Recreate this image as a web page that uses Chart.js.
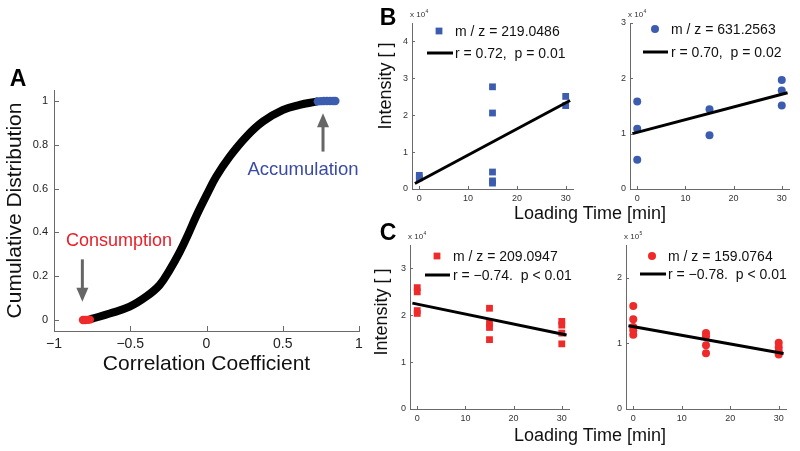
<!DOCTYPE html>
<html>
<head>
<meta charset="utf-8">
<script src="https://cdn.jsdelivr.net/npm/chart.js@4.4.0/dist/chart.umd.min.js"></script>
<style>
  body { margin:0; background:#fff; width:800px; height:451px; position:relative; overflow:hidden;
         font-family:"Liberation Sans", Arial, sans-serif; color:#111; }
  canvas { position:absolute; }
  .t { position:absolute; white-space:nowrap; line-height:1; transform:translate(-50%,-50%); }
  .rot { transform:translate(-50%,-50%) rotate(-90deg); }
  .panel { font-weight:bold; font-size:23px; color:#000; }
  .ttl { font-size:18px; }
</style>
</head>
<body>
<canvas id="cA" width="375" height="330" style="left:0;top:60px"></canvas>
<canvas id="cB1" width="220" height="215" style="left:360px;top:0"></canvas>
<canvas id="cB2" width="220" height="215" style="left:580px;top:0"></canvas>
<canvas id="cC1" width="220" height="215" style="left:360px;top:225px"></canvas>
<canvas id="cC2" width="220" height="215" style="left:580px;top:225px"></canvas>

<div class="t panel" style="left:18px;top:78px">A</div>
<div class="t panel" style="left:388px;top:17px">B</div>
<div class="t panel" style="left:388px;top:232px">C</div>

<div class="t" style="left:119px;top:240px;font-size:18px;color:#e8202a">Consumption</div>
<div class="t" style="left:303px;top:169px;font-size:18.5px;color:#3a4ba3">Accumulation</div>

<div class="t rot ttl" style="left:385px;top:86px">Intensity [ ]</div>
<div class="t rot ttl" style="left:381px;top:312px">Intensity [ ]</div>
<div class="t ttl" style="left:590px;top:213px">Loading Time [min]</div>
<div class="t ttl" style="left:590px;top:435px">Loading Time [min]</div>

<script>
// ---- panel A: cumulative distribution of correlation coefficients
const cdfR = [-0.755, -0.635, -0.504, -0.395, -0.307, -0.242, -0.176, -0.121, -0.067, 0.0, 0.064, 0.152, 0.261, 0.37, 0.502, 0.611, 0.72];
const cdfP = [0.005, 0.03, 0.061, 0.107, 0.16, 0.228, 0.31, 0.39, 0.475, 0.57, 0.655, 0.746, 0.837, 0.906, 0.959, 0.982, 0.997];
const consumeR = [-0.81, -0.795, -0.78, -0.765];
const consumeP = [0, 0, 0.001, 0.002];
const accumR = [0.73, 0.75, 0.77, 0.79, 0.81, 0.83, 0.845];
const accumP = [0.998, 0.999, 1, 1, 1, 1, 1];
const corrTicks = [-1, -0.5, 0, 0.5, 1];
const cdfTicks = [0, 0.2, 0.4, 0.6, 0.8, 1];
// arrows: x, tail value, head value
const arrowMarks = [
  { x: -0.814, from: 0.277, to: 0.084 },
  { x: 0.764, from: 0.769, to: 0.944 }
];

// ---- panels B and C: intensity vs loading time
const timeTicks = [0, 10, 20, 30];

const b1Time = [0, 0, 15, 15, 15, 15, 15, 30, 30];
const b1Int  = [0.37, 0.30, 2.77, 2.06, 0.46, 0.22, 0.16, 2.51, 2.26];
const b1FitX = [-0.9, 30.9];
const b1FitY = [0.15, 2.40];

const b2Time = [0, 0, 0, 15, 15, 30, 30, 30];
const b2Int  = [1.58, 1.09, 0.53, 1.44, 0.97, 1.97, 1.78, 1.51];
const b2FitX = [-1, 31.2];
const b2FitY = [1.0, 1.74];

const c1Time = [0, 0, 0, 0, 15, 15, 15, 15, 30, 30, 30, 30];
const c1Int  = [2.59, 2.50, 2.10, 2.04, 2.15, 1.83, 1.74, 1.48, 1.87, 1.79, 1.62, 1.39];
const c1FitX = [-1, 31];
const c1FitY = [2.26, 1.58];

const c2Time = [0, 0, 0, 0, 0, 15, 15, 15, 15, 30, 30, 30, 30];
const c2Int  = [1.57, 1.37, 1.25, 1.20, 1.13, 1.16, 1.11, 0.97, 0.85, 1.01, 0.94, 0.88, 0.83];
const c2FitX = [-1, 31];
const c2FitY = [1.27, 0.845];

const blue = '#3b5caf';
const red = '#ee2a2a';
const axisCol = '#6a6a6a';
const font = '"Liberation Sans", Arial, sans-serif';

function pts(xs, ys) { return xs.map((x, i) => ({ x: x, y: ys[i] })); }
function minus(v) { return String(v).replace('-', '\u2212'); }

// inward ticks, arrows, exponent label, legend
const decor = {
  id: 'decor',
  afterDraw(chart, args, o) {
    const ctx = chart.ctx, a = chart.chartArea;
    const xs = chart.scales.x, ys = chart.scales.y;
    ctx.save();
    ctx.strokeStyle = axisCol; ctx.lineWidth = 1;
    xs.ticks.forEach(t => {
      const px = Math.round(xs.getPixelForValue(t.value)) + 0.5;
      ctx.beginPath(); ctx.moveTo(px, a.bottom); ctx.lineTo(px, a.bottom - o.tick); ctx.stroke();
    });
    ys.ticks.forEach(t => {
      const py = Math.round(ys.getPixelForValue(t.value)) + 0.5;
      ctx.beginPath(); ctx.moveTo(a.left, py); ctx.lineTo(a.left + o.tick, py); ctx.stroke();
    });

    (o.arrows || []).forEach(ar => {
      const px = xs.getPixelForValue(ar.x);
      const y0 = ys.getPixelForValue(ar.from), y1 = ys.getPixelForValue(ar.to);
      const dir = y1 > y0 ? 1 : -1;
      ctx.strokeStyle = '#666'; ctx.fillStyle = '#666'; ctx.lineWidth = 3;
      ctx.beginPath(); ctx.moveTo(px, y0); ctx.lineTo(px, y1 - dir * 10); ctx.stroke();
      ctx.beginPath(); ctx.moveTo(px, y1); ctx.lineTo(px - 6, y1 - dir * 14); ctx.lineTo(px + 6, y1 - dir * 14); ctx.closePath(); ctx.fill();
    });

    if (o.exp) {
      ctx.fillStyle = '#333'; ctx.textBaseline = 'alphabetic'; ctx.textAlign = 'left';
      ctx.font = '8px ' + font;
      ctx.fillText('x 10', a.left - 2, a.top - 6);
      const w = ctx.measureText('x 10').width;
      ctx.font = '5px ' + font;
      ctx.fillText(o.exp, a.left - 2 + w + 0.5, a.top - 10);
    }

    if (o.legend) {
      const L = o.legend, d = chart.data.datasets[1];
      const mx = a.left + L.mx, my = a.top + L.my;
      ctx.fillStyle = d.backgroundColor;
      ctx.beginPath();
      if (d.pointStyle === 'rect') {
        const s = Math.SQRT1_2 * d.pointRadius;
        ctx.rect(mx - s, my - s, 2 * s, 2 * s);
      } else {
        ctx.arc(mx, my, d.pointRadius, 0, Math.PI * 2);
      }
      ctx.fill();
      ctx.strokeStyle = '#000'; ctx.lineWidth = 3;
      ctx.beginPath(); ctx.moveTo(a.left + L.l0, a.top + L.ly); ctx.lineTo(a.left + L.l1, a.top + L.ly); ctx.stroke();
      ctx.fillStyle = '#111'; ctx.font = '14px ' + font; ctx.textBaseline = 'middle'; ctx.textAlign = 'left';
      ctx.fillText(L.name, a.left + L.tx, my + 1);
      ctx.fillText(L.stat, a.left + L.tx, a.top + L.ly + 1);
    }
    ctx.restore();
  }
};

// panel A
new Chart(document.getElementById('cA'), {
  type: 'scatter',
  data: {
    datasets: [
      { data: pts(consumeR, consumeP), backgroundColor: red, pointRadius: 4.2, borderWidth: 0, order: 0 },
      { data: pts(accumR, accumP), backgroundColor: blue, pointRadius: 4.2, borderWidth: 0, order: 0 },
      { data: pts(cdfR, cdfP), showLine: true, borderColor: '#000', borderWidth: 8, pointRadius: 0,
        tension: 0.4, borderCapStyle: 'round', order: 1 }
    ]
  },
  options: {
    responsive: false, animation: false,
    layout: { padding: { top: 30, right: 16, bottom: 9, left: 0 } },
    plugins: {
      legend: { display: false }, tooltip: { enabled: false },
      decor: { tick: 5, arrows: arrowMarks }
    },
    scales: {
      x: {
        type: 'linear', min: -1, max: 1,
        afterBuildTicks: s => { s.ticks = corrTicks.map(v => ({ value: v })); },
        afterFit: s => { s.height = 50; },
        grid: { drawOnChartArea: false, drawTicks: false },
        border: { color: axisCol },
        ticks: { font: { family: font, size: 14 }, color: '#222', padding: 5, callback: v => minus(v), maxRotation: 0 },
        title: { display: true, text: 'Correlation Coefficient', font: { family: font, size: 21 }, color: '#111', padding: { top: 0, bottom: 4 } }
      },
      y: {
        min: -0.05, max: 1.05,
        afterBuildTicks: s => { s.ticks = cdfTicks.map(v => ({ value: v })); },
        afterFit: s => { s.width = 54; },
        grid: { drawOnChartArea: false, drawTicks: false },
        border: { color: axisCol },
        ticks: { font: { family: font, size: 11 }, color: '#222', padding: 6, callback: v => String(v) },
        title: { display: true, text: 'Cumulative Distribution', font: { family: font, size: 21 }, color: '#111', padding: { top: 3, bottom: 0 } }
      }
    }
  },
  plugins: [decor]
});

function smallChart(id, o) {
  return new Chart(document.getElementById(id), {
    type: 'scatter',
    data: {
      datasets: [
        { data: pts(o.fitX, o.fitY), showLine: true, borderColor: '#000', borderWidth: 3, pointRadius: 0, order: 0 },
        { data: pts(o.xs, o.ys), pointStyle: o.shape, pointRadius: o.r, backgroundColor: o.color, borderWidth: 0, order: 1 }
      ]
    },
    options: {
      responsive: false, animation: false,
      layout: { padding: o.pad },
      plugins: {
        legend: { display: false }, tooltip: { enabled: false },
        decor: { tick: 3, exp: o.exp, legend: o.legend }
      },
      scales: {
        x: {
          type: 'linear', min: -1.5, max: 31.5,
          afterBuildTicks: s => { s.ticks = timeTicks.map(v => ({ value: v })); },
          afterFit: s => { s.height = 18; },
          grid: { drawOnChartArea: false, drawTicks: false },
          border: { color: axisCol },
          ticks: { font: { family: font, size: 9 }, color: '#333', padding: 4, maxRotation: 0 }
        },
        y: {
          min: 0, max: o.ymax,
          afterBuildTicks: s => { s.ticks = o.yTicks.map(v => ({ value: v })); },
          afterFit: s => { s.width = o.yw; },
          grid: { drawOnChartArea: false, drawTicks: false },
          border: { color: axisCol },
          ticks: { font: { family: font, size: 9 }, color: '#333', padding: 4 }
        }
      }
    },
    plugins: [decor]
  });
}

smallChart('cB1', {
  xs: b1Time, ys: b1Int, fitX: b1FitX, fitY: b1FitY, shape: 'rect', r: 4.8, color: blue,
  ymax: 4.5, yTicks: [0, 1, 2, 3, 4], yw: 52, exp: '4',
  pad: { top: 23, right: 7, bottom: 8, left: 0 },
  legend: { mx: 27, my: 8, tx: 43, l0: 15, l1: 41, ly: 30, name: 'm / z = 219.0486', stat: 'r = 0.72,  p = 0.01' }
});
smallChart('cB2', {
  xs: b2Time, ys: b2Int, fitX: b2FitX, fitY: b2FitY, shape: 'circle', r: 4, color: blue,
  ymax: 3, yTicks: [0, 1, 2, 3], yw: 50, exp: '4',
  pad: { top: 23, right: 11, bottom: 8, left: 0 },
  legend: { mx: 25, my: 6, tx: 41, l0: 13, l1: 38, ly: 29, name: 'm / z = 631.2563', stat: 'r = 0.70,  p = 0.02' }
});
smallChart('cC1', {
  xs: c1Time, ys: c1Int, fitX: c1FitX, fitY: c1FitY, shape: 'rect', r: 4.8, color: red,
  ymax: 3.5, yTicks: [0, 1, 2, 3], yw: 50, exp: '4',
  pad: { top: 20, right: 11, bottom: 13, left: 0 },
  legend: { mx: 27, my: 11, tx: 43, l0: 15, l1: 40, ly: 30, name: 'm / z = 209.0947', stat: 'r = \u22120.74.  p < 0.01' }
});
smallChart('cC2', {
  xs: c2Time, ys: c2Int, fitX: c2FitX, fitY: c2FitY, shape: 'circle', r: 4, color: red,
  ymax: 2.5, yTicks: [0, 1, 2], yw: 46, exp: '5',
  pad: { top: 20, right: 14, bottom: 13, left: 0 },
  legend: { mx: 26, my: 11, tx: 42, l0: 14, l1: 40, ly: 29, name: 'm / z = 159.0764', stat: 'r = \u22120.78.  p < 0.01' }
});
</script>
</body>
</html>
